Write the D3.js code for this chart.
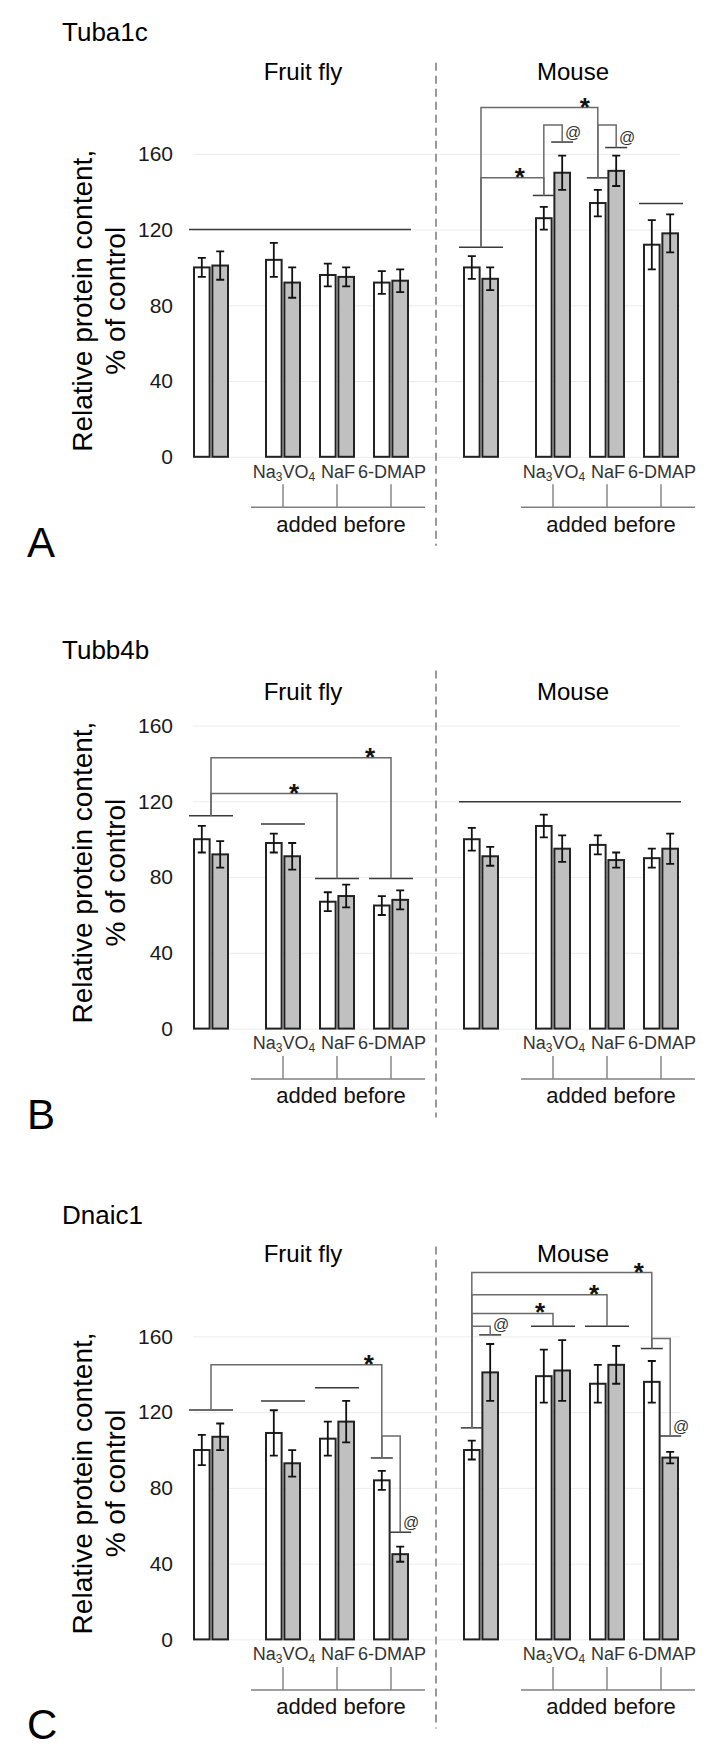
<!DOCTYPE html>
<html>
<head>
<meta charset="utf-8">
<script src="https://cdn.jsdelivr.net/npm/d3@7"></script>
<style>
  body { margin: 0; background: #fff; }
  text { font-family: "Liberation Sans", Arial, sans-serif; }
</style>
</head>
<body>
<div id="chart"></div>
<script>
// categories
const genes = ["Tuba1c", "Tubb4b", "Dnaic1"]
const panelLetters = ["A", "B", "C"]
const species = ["Fruit fly", "Mouse"]
const treatments = ["control", "Na3VO4", "NaF", "6-DMAP"]
const yTicks = [0, 40, 80, 120, 160]

// 8 bars per series: fruit fly control, Na3VO4, NaF, 6-DMAP, then mouse in the same order
const tuba1cWhite    = [100, 104, 96, 92, 100, 126, 134, 112]
const tuba1cWhiteErr = [5, 9, 6, 6, 6, 6, 7, 13]
const tuba1cGray     = [101, 92, 95, 93, 94, 150, 151, 118]
const tuba1cGrayErr  = [7.5, 8, 5, 6, 6, 9, 8, 10]

const tubb4bWhite    = [100, 98, 67, 65, 100, 107, 97, 90]
const tubb4bWhiteErr = [7, 5, 5, 5, 6, 6, 5, 5]
const tubb4bGray     = [92, 91, 70, 68, 91, 95, 89, 95]
const tubb4bGrayErr  = [7, 7, 6, 5, 5, 7, 4, 8]

const dnaic1White    = [100, 109, 106, 84, 100, 139, 135, 136]
const dnaic1WhiteErr = [8, 12, 9, 5, 5, 14, 10, 11]
const dnaic1Gray     = [107, 93, 115, 45, 141, 142, 145, 96]
const dnaic1GrayErr  = [7, 7, 11, 4, 15, 16, 10, 3]

// horizontal marks over bars: [bar, part, level]  part: pair / w / g / all (whole species)
const tuba1cMarks = [[0, "all", 120], [4, "pair", 110.6], [5, "w", 138], [5, "g", 166.2],
                     [6, "w", 147.3], [6, "g", 163.3], [7, "pair", 133.7]]
const tubb4bMarks = [[0, "pair", 112.4], [1, "pair", 108.1], [2, "pair", 79.3], [3, "pair", 79.3],
                     [4, "all", 119.8]]
const dnaic1Marks = [[0, "pair", 121.2], [1, "pair", 125.9], [2, "pair", 132.9], [3, "w", 95.8],
                     [3, "g", 56.6], [4, "w", 111.7], [4, "g", 160.8], [5, "pair", 165.3],
                     [6, "pair", 165.3], [7, "w", 153.6], [7, "g", 107.4]]

// brackets: [from bar, part, from level, top level, to bar, part, to level, label]
const tuba1cLinks = [[4, "pair", 110.6, 184.4, 6, "w", 147.3, "*"],
                     [4, "pair", 110.6, 147.3, 5, "w", 138, "*"],
                     [5, "w", 138, 175.2, 5, "g", 166.2, "@"],
                     [6, "w", 147.3, 175.2, 6, "g", 163.3, "@"]]
const tubb4bLinks = [[0, "pair", 112.4, 143, 3, "pair", 79.3, "*"],
                     [0, "pair", 112.4, 124.1, 2, "pair", 79.3, "*"]]
const dnaic1Links = [[0, "pair", 121.2, 145, 3, "w", 95.8, "*"],
                     [3, "w", 95.8, 107.4, 3, "g", 56.6, "@"],
                     [4, "w", 111.7, 193.7, 7, "w", 153.6, "*"],
                     [4, "w", 111.7, 182, 6, "pair", 165.3, "*"],
                     [4, "w", 111.7, 172.1, 5, "pair", 165.3, "*"],
                     [4, "w", 111.7, 165.3, 4, "g", 160.8, "@"],
                     [7, "w", 153.6, 158.9, 7, "g", 107.4, "@"]]

const panels = [
  {white: tuba1cWhite, whiteErr: tuba1cWhiteErr, gray: tuba1cGray, grayErr: tuba1cGrayErr, marks: tuba1cMarks, links: tuba1cLinks},
  {white: tubb4bWhite, whiteErr: tubb4bWhiteErr, gray: tubb4bGray, grayErr: tubb4bGrayErr, marks: tubb4bMarks, links: tubb4bLinks},
  {white: dnaic1White, whiteErr: dnaic1WhiteErr, gray: dnaic1Gray, grayErr: dnaic1GrayErr, marks: dnaic1Marks, links: dnaic1Links}
]

// layout
const panelBase = [456.8, 1028.6, 1639.4]   // pixel y of value 0
const geneTitleDy = [-425, -379, -425]
const speciesDy = [-385, -337, -386]
const dividerTop = [-394, -358, -393]
const plotH = 303
const starNudge = {"0-1": -11, "1-0": -8, "1-1": -30}

var svg = d3.select("#chart").append("svg")
    .attr("width", 727)
    .attr("height", 1758)

// slot of a bar group: control, gap, then three treatments; mouse starts 5 slots later
function slot(i) {
    var s = Math.floor(i / 4), g = i % 4
    return s * 5 + (g === 0 ? 0 : g + 1 / 3)
}
var x = d3.scaleLinear().domain([0, 1]).range([211, 265])
var xBar = d3.scaleBand().domain(["w", "g"]).range([-17, 17]).paddingInner(0.15)

function partX(i, part) {
    var c = x(slot(i))
    if (part === "w" || part === "g") return c + xBar(part) + xBar.bandwidth() / 2
    return c
}

panels.forEach(function(p, pi) {
    var y0 = panelBase[pi]
    var y = d3.scaleLinear().domain([0, 160]).range([y0, y0 - plotH])
    var g = svg.append("g")

    // grid and tick labels
    g.append("g")
        .attr("transform", "translate(193,0)")
        .call(d3.axisLeft(y).tickValues(yTicks).tickSize(-487).tickPadding(20))
        .call(function(a) { a.select(".domain").remove() })
        .call(function(a) { a.selectAll(".tick line").attr("stroke", "#ececec") })
        .call(function(a) {
            a.selectAll(".tick text")
                .attr("font-size", 21)
                .attr("fill", "#1a1a1a")
                .attr("font-family", '"Liberation Sans", Arial, sans-serif')
        })

    // dashed divider
    var divX = (x(slot(3)) + x(slot(4))) / 2
    g.append("line")
        .attr("x1", divX).attr("x2", divX)
        .attr("y1", y0 + dividerTop[pi]).attr("y2", y0 + 89)
        .attr("stroke", "#999")
        .attr("stroke-width", 2)
        .attr("stroke-dasharray", "8,5")

    // bars
    var bars = []
    d3.range(8).forEach(function(i) {
        bars.push({i: i, k: "w", v: p.white[i], e: p.whiteErr[i]})
        bars.push({i: i, k: "g", v: p.gray[i], e: p.grayErr[i]})
    })
    g.selectAll("rect.bar")
        .data(bars)
        .enter()
        .append("rect")
        .attr("class", "bar")
        .attr("x", function(d) { return x(slot(d.i)) + xBar(d.k) })
        .attr("y", function(d) { return y(d.v) })
        .attr("width", xBar.bandwidth())
        .attr("height", function(d) { return y(0) - y(d.v) })
        .attr("fill", function(d) { return d.k === "w" ? "#ffffff" : "#c0c0c0" })
        .attr("stroke", "#222")
        .attr("stroke-width", 2)

    // error bars
    g.selectAll("path.err")
        .data(bars)
        .enter()
        .append("path")
        .attr("class", "err")
        .attr("d", function(d) {
            var cx = partX(d.i, d.k), hi = y(d.v + d.e), lo = y(d.v - d.e)
            return "M" + (cx - 4) + "," + hi + "H" + (cx + 4) +
                   "M" + cx + "," + hi + "V" + lo +
                   "M" + (cx - 4) + "," + lo + "H" + (cx + 4)
        })
        .attr("fill", "none")
        .attr("stroke", "#111")
        .attr("stroke-width", 1.8)

    // marks over groups
    g.selectAll("line.mark")
        .data(p.marks)
        .enter()
        .append("line")
        .attr("class", "mark")
        .attr("x1", function(d) {
            if (d[1] === "all") return x(slot(d[0])) - 22
            return partX(d[0], d[1]) - (d[1] === "pair" ? 22 : 11)
        })
        .attr("x2", function(d) {
            if (d[1] === "all") return x(slot(d[0] + 3)) + 20
            return partX(d[0], d[1]) + (d[1] === "pair" ? 22 : 11)
        })
        .attr("y1", function(d) { return y(d[2]) })
        .attr("y2", function(d) { return y(d[2]) })
        .attr("stroke", "#3a3a3a")
        .attr("stroke-width", 1.5)

    // brackets
    g.selectAll("path.link")
        .data(p.links)
        .enter()
        .append("path")
        .attr("class", "link")
        .attr("d", function(d) {
            var fx = partX(d[0], d[1]), tx = partX(d[4], d[5])
            return "M" + fx + "," + y(d[2]) + "V" + y(d[3]) + "H" + tx + "V" + y(d[6])
        })
        .attr("fill", "none")
        .attr("stroke", "#6a6a6a")
        .attr("stroke-width", 1.5)

    g.selectAll("text.sig")
        .data(p.links)
        .enter()
        .append("text")
        .attr("class", "sig")
        .attr("x", function(d, li) {
            var tx = partX(d[4], d[5])
            if (d[7] === "@") return tx + 11
            return tx - 13 + (starNudge[pi + "-" + li] || 0)
        })
        .attr("y", function(d) {
            if (d[7] === "@") return y(d[6]) - 4.5
            return y(d[3]) + 8
        })
        .attr("text-anchor", "middle")
        .attr("font-size", function(d) { return d[7] === "@" ? 16 : 26 })
        .attr("font-weight", function(d) { return d[7] === "@" ? "normal" : "bold" })
        .attr("fill", function(d) { return d[7] === "@" ? "#333" : "#111" })
        .text(function(d) { return d[7] })

    // treatment labels and "added before" brackets
    species.forEach(function(sp, si) {
        var first = si * 4
        var lx1 = x(slot(first + 1)) - 32, lx2 = x(slot(first + 3)) + 34
        treatments.forEach(function(t, ti) {
            if (ti === 0) return
            var cx = x(slot(first + ti))
            var lab = g.append("text")
                .attr("x", cx + 1)
                .attr("y", y0 + 14.5)
                .attr("dy", "0.35em")
                .attr("text-anchor", "middle")
                .attr("font-size", 18)
                .attr("fill", "#333")
            if (t === "Na3VO4") {
                lab.append("tspan").text("Na")
                lab.append("tspan").text("3").attr("font-size", 12).attr("dy", 3)
                lab.append("tspan").text("VO").attr("dy", -3)
                lab.append("tspan").text("4").attr("font-size", 12).attr("dy", 3)
            } else {
                lab.text(t)
            }
            g.append("line")
                .attr("x1", cx).attr("x2", cx)
                .attr("y1", y0 + 27.5).attr("y2", y0 + 50.5)
                .attr("stroke", "#808080").attr("stroke-width", 1.4)
        })
        g.append("line")
            .attr("x1", lx1).attr("x2", lx2)
            .attr("y1", y0 + 50.5).attr("y2", y0 + 50.5)
            .attr("stroke", "#808080").attr("stroke-width", 1.5)
        g.append("text")
            .attr("x", (lx1 + lx2) / 2 + 3)
            .attr("y", y0 + 67)
            .attr("dy", "0.35em")
            .attr("text-anchor", "middle")
            .attr("font-size", 22)
            .attr("fill", "#111")
            .text("added before")

        // species title
        g.append("text")
            .attr("x", (x(slot(first)) + x(slot(first + 3))) / 2 + 2)
            .attr("y", y0 + speciesDy[pi])
            .attr("dy", "0.35em")
            .attr("text-anchor", "middle")
            .attr("font-size", 24)
            .attr("fill", "#000")
            .text(sp)
    })

    // gene title
    g.append("text")
        .attr("x", 62)
        .attr("y", y0 + geneTitleDy[pi])
        .attr("dy", "0.35em")
        .attr("font-size", 26)
        .attr("fill", "#000")
        .text(genes[pi])

    // y axis title
    var ty = y0 - 156
    g.append("text")
        .attr("transform", "translate(92," + ty + ") rotate(-90)")
        .attr("text-anchor", "middle")
        .attr("font-size", 28)
        .attr("fill", "#000")
        .text("Relative protein content,")
    g.append("text")
        .attr("transform", "translate(125," + ty + ") rotate(-90)")
        .attr("text-anchor", "middle")
        .attr("font-size", 28)
        .attr("fill", "#000")
        .text("% of control")

    // panel letter
    g.append("text")
        .attr("x", 27)
        .attr("y", y0 + 100)
        .attr("font-size", 42)
        .attr("fill", "#000")
        .text(panelLetters[pi])
})
</script>
</body>
</html>
